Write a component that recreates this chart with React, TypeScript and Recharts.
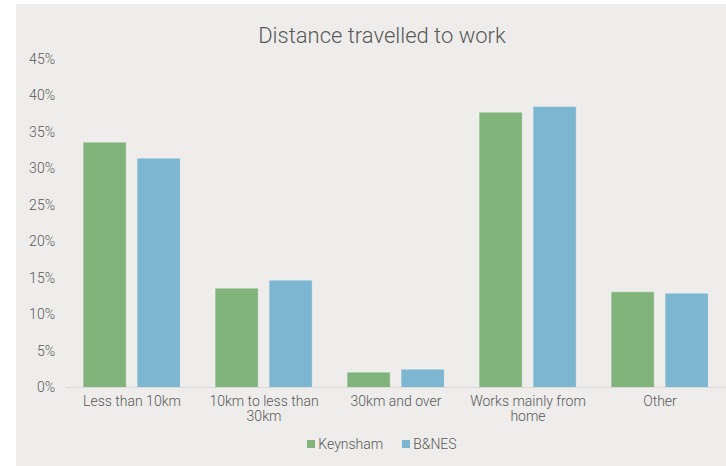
import { BarChart, Bar, XAxis, YAxis } from 'recharts'

const categories = [
  'Less than 10km',
  '10km to less than 30km',
  '30km and over',
  'Works mainly from home',
  'Other',
]
const keynsham = [33.6, 13.6, 2.1, 37.7, 13.1]
const banes = [31.4, 14.7, 2.5, 38.5, 12.9]
const yTicks = [0, 5, 10, 15, 20, 25, 30, 35, 40, 45]

const series = [
  { key: 'keynsham', name: 'Keynsham', color: '#80b47b' },
  { key: 'banes', name: 'B&NES', color: '#7db6d1' },
]

const data = categories.map((c, i) => ({ category: c, keynsham: keynsham[i], banes: banes[i] }))

const FONT = 'Roboto, "Liberation Sans", sans-serif'
const TEXT = '#595959'

// wrap a label into lines of at most 17 characters
function wrap(label: string, max = 17) {
  const lines: string[] = []
  let cur = ''
  for (const w of label.split(' ')) {
    const next = cur ? cur + ' ' + w : w
    if (next.length > max && cur) {
      lines.push(cur)
      cur = w
    } else {
      cur = next
    }
  }
  if (cur) lines.push(cur)
  return lines
}

function CategoryTick(props: any) {
  const { x, y, payload } = props
  const lines = wrap(payload.value)
  return (
    <text x={x} y={y} textAnchor="middle" fill={TEXT} fontSize={14} fontFamily={FONT} fontWeight={300}>
      {lines.map((l, i) => (
        <tspan key={i} x={x} dy={i === 0 ? 10.5 : 15}>
          {l}
        </tspan>
      ))}
    </text>
  )
}

export default function App() {
  return (
    <div style={{ position: 'absolute', left: 0, top: 0, width: 726, height: 466, overflow: 'hidden', background: '#ffffff' }}>
      <div style={{ position: 'absolute', left: 16, top: 4, width: 732, height: 470, background: '#eeedeb', fontFamily: FONT }}>
        <div
          style={{
            position: 'absolute',
            top: 19,
            left: 0,
            width: 732,
            textAlign: 'center',
            fontSize: 22,
            fontWeight: 300,
            color: TEXT,
          }}
        >
          Distance travelled to work
        </div>
        <BarChart
          width={732}
          height={470}
          data={data}
          margin={{ top: 55, right: 22, left: 0, bottom: 56.5 }}
          barCategoryGap="13%"
          barGap={11}
        >
          <XAxis
            dataKey="category"
            axisLine={{ stroke: '#d9d9d9' }}
            tickLine={false}
            interval={0}
            tick={<CategoryTick />}
          />
          <YAxis
            width={50}
            domain={[0, 45]}
            ticks={yTicks}
            interval={0}
            axisLine={false}
            tickLine={false}
            tickSize={0}
            tickMargin={11}
            tickFormatter={(v: number) => `${v}%`}
            tick={{ fill: TEXT, fontSize: 14, fontFamily: FONT, fontWeight: 300 }}
          />
          {series.map((s) => (
            <Bar
              key={s.key}
              dataKey={s.key}
              name={s.name}
              fill={s.color}
              stroke="#ffffff"
              strokeOpacity={0.3}
              strokeWidth={1}
              isAnimationActive={false}
            />
          ))}
        </BarChart>
        <div
          style={{
            position: 'absolute',
            top: 432,
            left: 0,
            width: 732,
            display: 'flex',
            justifyContent: 'center',
            gap: 19,
            fontSize: 14,
            fontWeight: 300,
            color: TEXT,
          }}
        >
          {series.map((s) => (
            <div key={s.key} style={{ display: 'flex', alignItems: 'center', gap: 3 }}>
              <span style={{ display: 'inline-block', width: 8, height: 8, background: s.color }} />
              <span>{s.name}</span>
            </div>
          ))}
        </div>
      </div>
    </div>
  )
}
